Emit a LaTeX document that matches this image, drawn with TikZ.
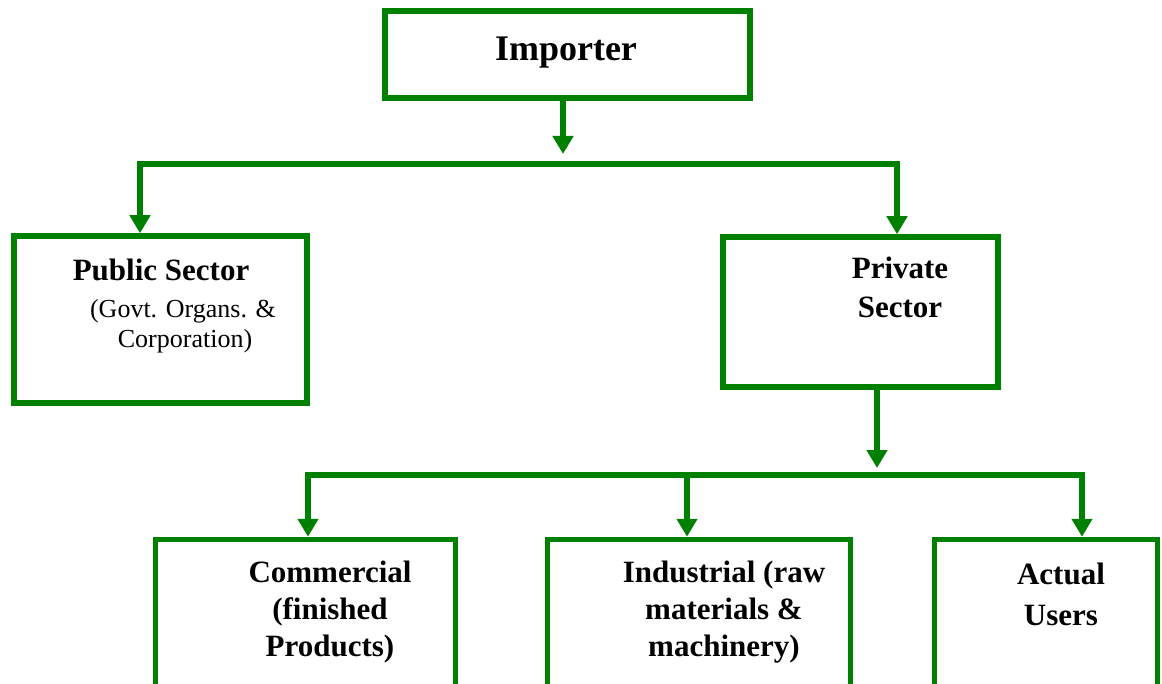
\documentclass[tikz,border=0pt]{standalone}
\usepackage{fontspec}
\setmainfont{Liberation Serif}
\usetikzlibrary{arrows.meta}
\definecolor{leaf}{RGB}{0,128,0}
\tikzset{
  box/.style={draw=leaf, line width=5.5pt, rectangle, inner sep=0pt, fill=white},
  lbl/.style={align=center, inner sep=0pt, font=\fontsize{31}{37}\selectfont\bfseries},
  sub/.style={align=center, inner sep=0pt, font=\fontsize{26}{30}\selectfont},
  ln/.style={draw=leaf, line width=5.5pt},
  arr/.style={ln, -{Triangle[width=20pt,length=18pt]}}
}
\begin{document}
\begin{tikzpicture}[x=1pt,y=-1pt]
\useasboundingbox (0,0) rectangle (1162,684);
\begin{scope}
\clip (0,0) rectangle (1162,684);
% boxes
\node[box, minimum width=365pt, minimum height=87pt] (imp) at (567.5,54.5) {};
\node[box, minimum width=293pt, minimum height=167pt] (pub) at (160.5,319.5) {};
\node[box, minimum width=275pt, minimum height=150pt] (priv) at (860.5,312) {};
\node[box, minimum width=300pt, minimum height=160pt] (com) at (305.5,619.5) {};
\node[box, minimum width=303pt, minimum height=160pt] (ind) at (699,619.5) {};
\node[box, minimum width=223pt, minimum height=160pt] (act) at (1046,619.5) {};
\end{scope}
% texts
\node[lbl, font=\fontsize{36}{40}\selectfont\bfseries] (timp) at (566,53) {Importer};
\node[lbl] (tpub) at (161,270) {Public Sector};
\node[sub] (tpub2) at (183,311) {(Govt. Organs. \&};
\node[sub] (tpub3) at (185,341) {Corporation)};
\node[lbl, font=\fontsize{31}{39}\selectfont\bfseries] (tpriv) at (900,287.5) {Private\\Sector};
\node[lbl] (tcom) at (330,612) {Commercial\\(finished\\Products)};
\node[lbl, font=\fontsize{31}{37}\selectfont\bfseries] (tind) at (724,612) {Industrial (raw\\materials \&\\machinery)};
\node[lbl, font=\fontsize{31}{41}\selectfont\bfseries] (tact) at (1061,594) {Actual\\Users};
% first level connectors
\coordinate (t1) at (563,154);
\coordinate (b1l) at (140,164);
\coordinate (b1r) at (897,164);
\draw[arr] (imp.south -| t1) -- (t1);
\draw[arr] (b1r) -- (b1l) -- (b1l |- pub.north);
\draw[arr] (b1l) -- (b1r) -- (b1r |- priv.north);
% second level connectors
\coordinate (t2) at (877,468);
\coordinate (b2l) at (308,475);
\coordinate (b2m) at (687,475);
\coordinate (b2r) at (1082,475);
\draw[arr] (priv.south -| t2) -- (t2);
\draw[arr] (b2r) -- (b2l) -- (b2l |- com.north);
\draw[arr] (b2l) -- (b2r) -- (b2r |- act.north);
\draw[arr] (b2m) -- (b2m |- ind.north);
\end{tikzpicture}
\end{document}
